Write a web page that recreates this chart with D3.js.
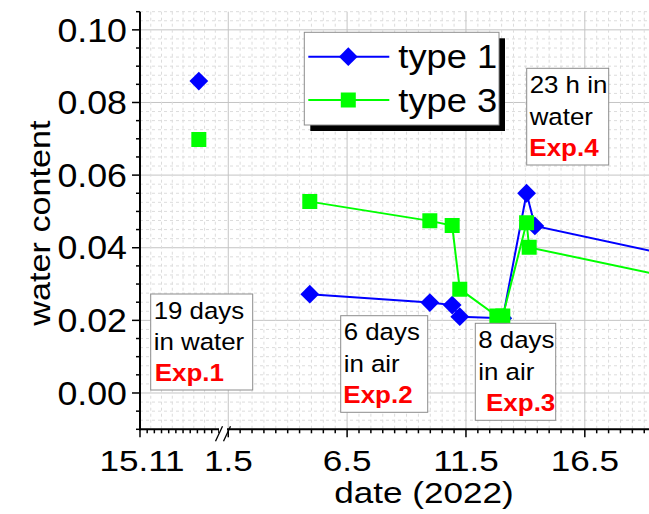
<!DOCTYPE html>
<html>
<head>
<meta charset="utf-8">
<script src="https://cdn.jsdelivr.net/npm/d3@7/dist/d3.min.js"></script>
<style>
  html, body { margin: 0; padding: 0; background: #fff; }
  svg { display: block; font-family: "Liberation Sans", Arial, sans-serif; }
</style>
</head>
<body>
<svg id="chart" width="649" height="514"></svg>
<script>
// ---- data -------------------------------------------------------------
// November 2021 (left of the axis break), day of month
const novDays   = [23.2];
const type1Nov  = [0.0859];
const type3Nov  = [0.0698];

// May 2022 (right of the axis break), day of month (fractional = time of day)
const mayDays1  = [4.43, 9.48, 10.42, 10.74, 12.55, 13.55, 13.9, 20.5];
const type1May  = [0.0272, 0.0249, 0.0242, 0.0210, 0.0206, 0.0550, 0.0460, 0.0367];
const mayDays3  = [4.43, 9.48, 10.42, 10.74, 12.3, 12.55, 13.55, 13.66, 20.5];
const type3May  = [0.0527, 0.0474, 0.0461, 0.0286, 0.0212, 0.0212, 0.0469, 0.0401, 0.0306];

const yTicks      = [0, 0.02, 0.04, 0.06, 0.08, 0.10];
const novTicks    = [15];
const novLabels   = ["15.11"];
const mayTicks    = [1, 6, 11, 16];
const mayLabels   = ["1.5", "6.5", "11.5", "16.5"];
const seriesNames = ["type 1", "type 3"];
const seriesColors = ["#0000ff", "#00ff00"];

// ---- layout -----------------------------------------------------------
const svg = d3.select("#chart");
const pLeft = 140, pRight = 649, pTop = 11.7, pBottom = 429.3;

const y  = d3.scaleLinear().domain([-0.01, 0.105]).range([pBottom, pTop]);
const xL = d3.scaleLinear().domain([15, 26.5]).range([pLeft, 222.5]);
const xR = d3.scaleLinear().domain([0.8, 18.7]).range([223.5, pRight]);
const breakX = (xL.range()[1] + xR.range()[0]) / 2;

function sText(parent, x, yy, str, o) {
  return parent.append("text")
    .attr("transform", `translate(${x},${yy}) scale(${o.sx || 1},1)`)
    .attr("text-anchor", o.anchor || "start")
    .attr("font-size", o.size)
    .attr("font-weight", o.weight || "normal")
    .attr("fill", o.fill || "#000")
    .text(str);
}

// ---- grid -------------------------------------------------------------
const grid = svg.append("g");
const gridColor = "#c4c4c4", minorColor = "#dcdcdc";
d3.range(-0.01, 0.1051, 0.0025).forEach(v => {
  const major = Math.abs(v / 0.02 - Math.round(v / 0.02)) < 1e-6;
  grid.append("line").attr("x1", pLeft).attr("x2", pRight)
    .attr("y1", y(v)).attr("y2", y(v))
    .attr("stroke", major ? gridColor : minorColor)
    .attr("stroke-width", 1)
    .attr("stroke-dasharray", major ? null : "3,3");
});
d3.range(15 + 1.5, 26.5, 1.5).forEach(d => {
  grid.append("line").attr("x1", xL(d)).attr("x2", xL(d))
    .attr("y1", pTop).attr("y2", pBottom)
    .attr("stroke", minorColor).attr("stroke-dasharray", "3,3");
});
d3.range(1, 18.71, 0.5).forEach(d => {
  const major = mayTicks.includes(d);
  grid.append("line").attr("x1", xR(d)).attr("x2", xR(d))
    .attr("y1", pTop).attr("y2", pBottom)
    .attr("stroke", major ? gridColor : minorColor)
    .attr("stroke-dasharray", major ? null : "3,3");
});

// ---- series -----------------------------------------------------------
svg.append("clipPath").attr("id", "plotClip")
  .append("rect").attr("x", pLeft).attr("y", pTop)
  .attr("width", pRight - pLeft).attr("height", pBottom - pTop);
const plot = svg.append("g").attr("clip-path", "url(#plotClip)");

const diamond = d3.symbol().type(d3.symbolDiamond2).size(225);
const square  = d3.symbol().type(d3.symbolSquare).size(225);

function drawSeries(days, vals, novVals, color, sym) {
  const pts = days.map((d, i) => [xR(d), y(vals[i])]);
  plot.append("path").attr("d", d3.line()(pts))
    .attr("fill", "none").attr("stroke", color).attr("stroke-width", 2);
  plot.selectAll(null).data(pts).enter().append("path")
    .attr("transform", p => `translate(${p[0]},${p[1]})`)
    .attr("d", sym).attr("fill", color);
  plot.selectAll(null).data(novDays.map((d, i) => [xL(d), y(novVals[i])])).enter()
    .append("path")
    .attr("transform", p => `translate(${p[0]},${p[1]})`)
    .attr("d", sym).attr("fill", color);
}
drawSeries(mayDays1, type1May, type1Nov, seriesColors[0], diamond);
drawSeries(mayDays3, type3May, type3Nov, seriesColors[1], square);

// ---- axes -------------------------------------------------------------
const axes = svg.append("g").attr("stroke", "#000");
axes.append("line").attr("x1", pLeft).attr("x2", pLeft)
  .attr("y1", pTop).attr("y2", pBottom + 1).attr("stroke-width", 2);
axes.append("line").attr("x1", pLeft - 1).attr("x2", pRight)
  .attr("y1", pBottom).attr("y2", pBottom).attr("stroke-width", 2);

d3.range(-0.01, 0.1051, 0.005).forEach(v => {
  const major = Math.abs(v / 0.02 - Math.round(v / 0.02)) < 1e-6;
  axes.append("line").attr("x1", pLeft - (major ? 8 : 4)).attr("x2", pLeft)
    .attr("y1", y(v)).attr("y2", y(v)).attr("stroke-width", 1.5);
});
d3.range(16, 26.5, 1).forEach(d => {
  axes.append("line").attr("x1", xL(d)).attr("x2", xL(d))
    .attr("y1", pBottom).attr("y2", pBottom + 4).attr("stroke-width", 1.5);
});
novTicks.forEach(d => {
  axes.append("line").attr("x1", xL(d)).attr("x2", xL(d))
    .attr("y1", pBottom).attr("y2", pBottom + 8).attr("stroke-width", 1.5);
});
d3.range(1, 18.71, 0.5).forEach(d => {
  const major = mayTicks.includes(d);
  axes.append("line").attr("x1", xR(d)).attr("x2", xR(d))
    .attr("y1", pBottom).attr("y2", pBottom + (major ? 8 : 4)).attr("stroke-width", 1.5);
});

// axis break
svg.append("rect").attr("x", breakX - 4).attr("y", pBottom - 3)
  .attr("width", 8).attr("height", 12).attr("fill", "#fff");
[-4, 4].forEach(off => {
  svg.append("line")
    .attr("x1", breakX + off - 3.5).attr("y1", pBottom + 12)
    .attr("x2", breakX + off + 3.5).attr("y2", pBottom - 3)
    .attr("stroke", "#000").attr("stroke-width", 1.3);
});

// tick labels
const labels = svg.append("g");
yTicks.forEach(v => {
  sText(labels, pLeft - 13, y(v) + 11.7, d3.format(".2f")(v),
    { size: 32.5, anchor: "end", sx: 1.1 });
});
novTicks.forEach((d, i) => {
  sText(labels, xL(d) + 2, pBottom + 41.5, novLabels[i], { size: 30, anchor: "middle", sx: 1.17 });
});
mayTicks.forEach((d, i) => {
  sText(labels, xR(d), pBottom + 41.5, mayLabels[i], { size: 30, anchor: "middle", sx: 1.17 });
});

// axis titles
sText(labels, 424, 503, "date (2022)", { size: 30, anchor: "middle", sx: 1.17 });
labels.append("text")
  .attr("transform", "translate(50,223) rotate(-90) scale(1.14,1)")
  .attr("text-anchor", "middle").attr("font-size", 30)
  .text("water content");

// ---- annotations ------------------------------------------------------
const notes = [
  { x: 150.7, y: 294,   w: 102,  h: 96,   lines: ["19 days", "in water"], exp: "Exp.1", expDx: 4 },
  { x: 340.7, y: 315.7, w: 87,   h: 96.6, lines: ["6 days", "in air"],    exp: "Exp.2", expDx: 2.6 },
  { x: 475.3, y: 323.3, w: 80.4, h: 97,   lines: ["8 days", "in air"],    exp: "Exp.3", expDx: 10.7 },
  { x: 526.7, y: 68.3,  w: 82,   h: 96.7, lines: ["23 h in", "water"],    exp: "Exp.4", expDx: 2.6 }
];
notes.forEach(n => {
  const g = svg.append("g");
  g.append("rect").attr("x", n.x).attr("y", n.y).attr("width", n.w).attr("height", n.h)
    .attr("fill", "#fff").attr("stroke", "#8c8c8c").attr("stroke-width", 1);
  n.lines.forEach((t, i) => {
    sText(g, n.x + 3, n.y + 24.5 + i * 31.7, t, { size: 23.5, sx: 1.1 });
  });
  sText(g, n.x + n.expDx, n.y + 24.5 + 2 * 31.7 - 0.5, n.exp,
    { size: 23, weight: "bold", fill: "#ff0000", sx: 1.13 });
});

// ---- legend -----------------------------------------------------------
const lg = svg.append("g");
const lx = 304.3, ly = 32.3, lw = 194.7, lh = 92.7;
lg.append("rect").attr("x", lx + 6).attr("y", ly + 6).attr("width", lw).attr("height", lh)
  .attr("fill", "#000");
lg.append("rect").attr("x", lx).attr("y", ly).attr("width", lw).attr("height", lh)
  .attr("fill", "#fff").attr("stroke", "#8c8c8c").attr("stroke-width", 1);
const syms = [diamond, square];
seriesNames.forEach((name, i) => {
  const cy = 56.7 + i * 43.3;
  lg.append("line").attr("x1", lx + 4).attr("x2", lx + 85)
    .attr("y1", cy).attr("y2", cy)
    .attr("stroke", seriesColors[i]).attr("stroke-width", 2);
  lg.append("path").attr("transform", `translate(${lx + 44},${cy})`)
    .attr("d", syms[i]).attr("fill", seriesColors[i]);
  sText(lg, lx + 94, cy + 11.6, name, { size: 33, sx: 1.1 });
});
</script>
</body>
</html>
